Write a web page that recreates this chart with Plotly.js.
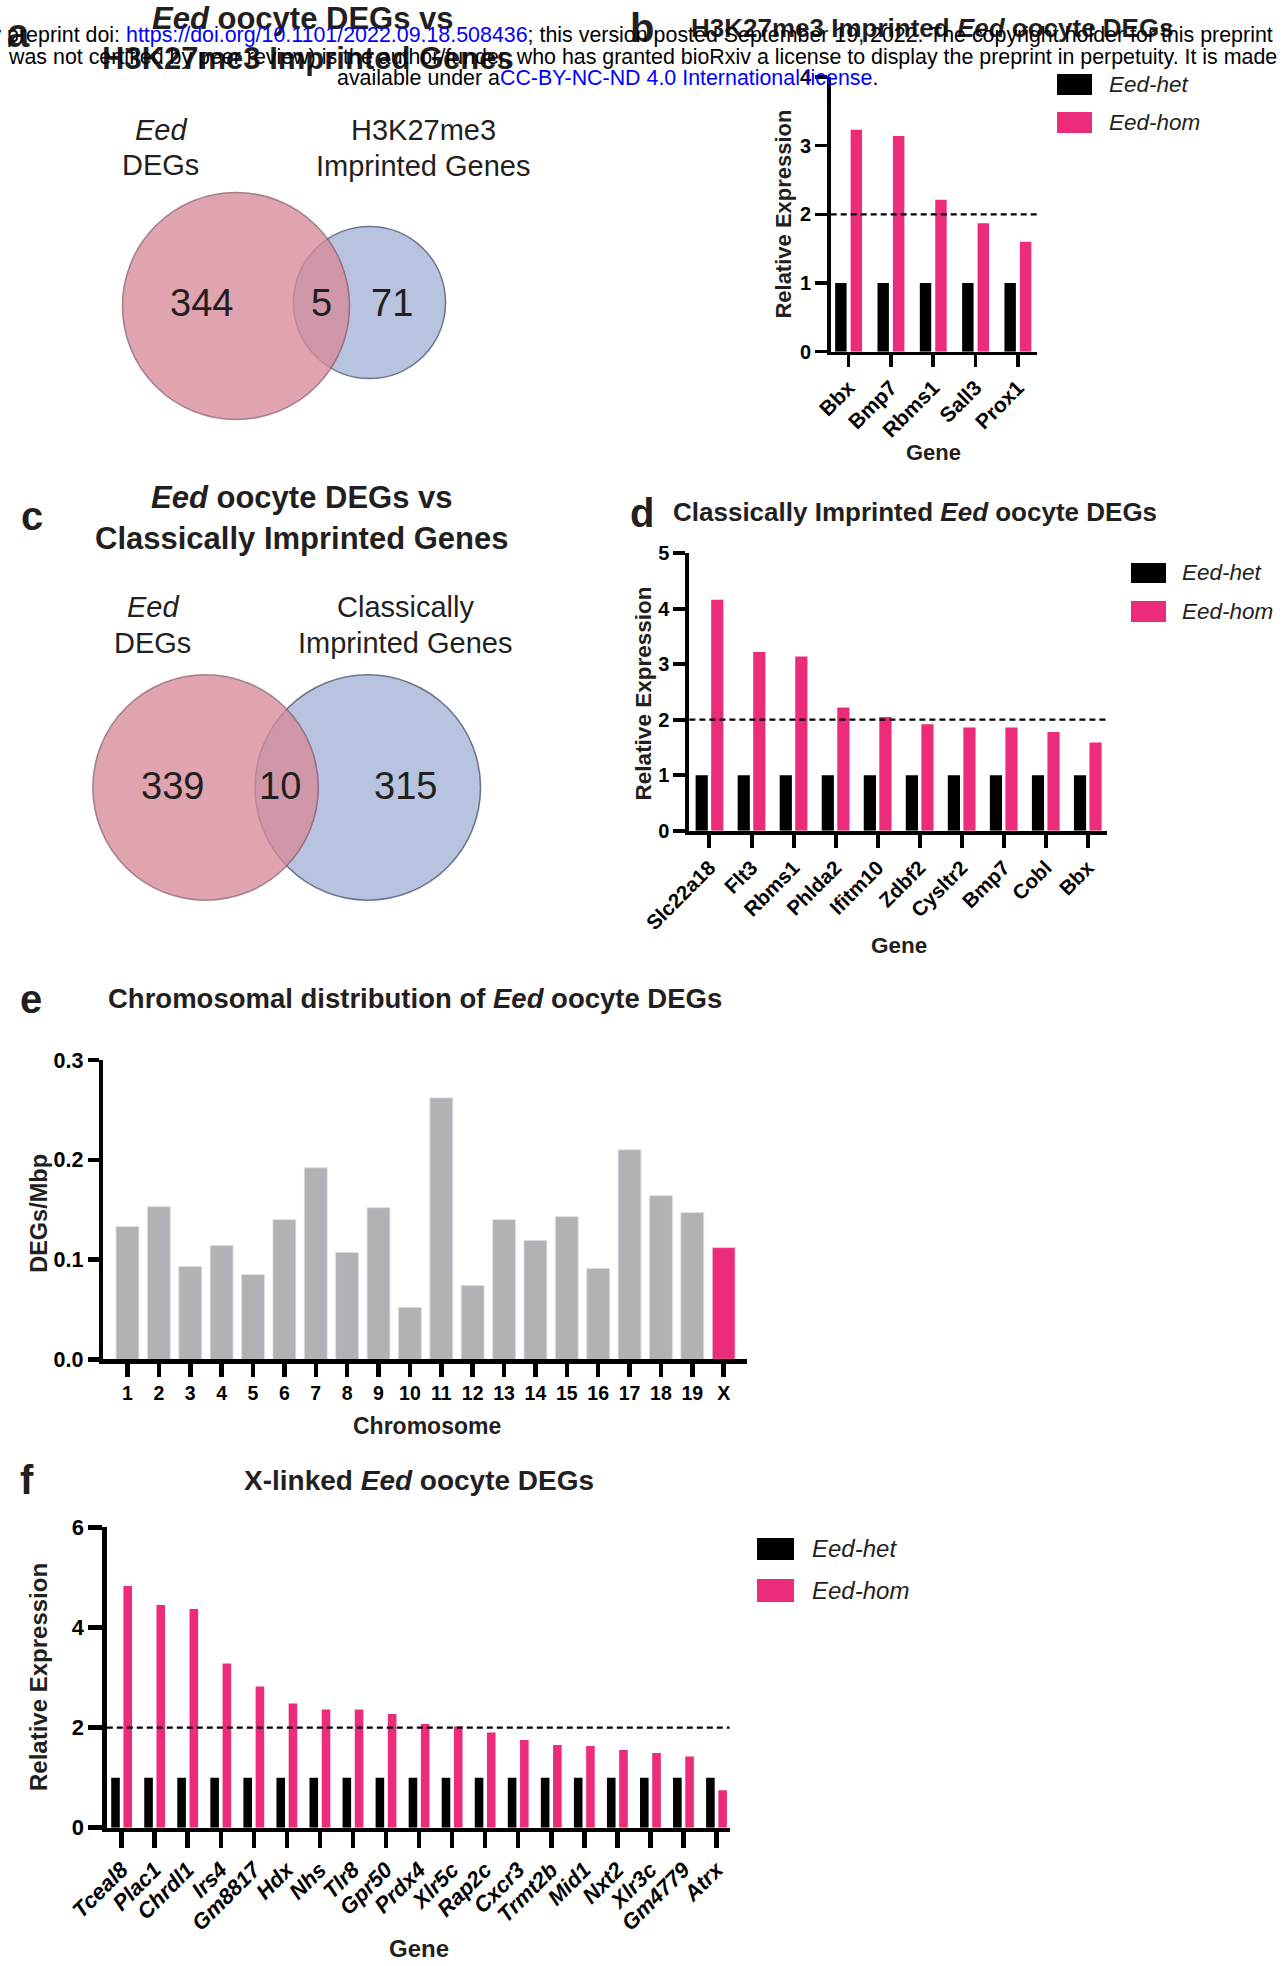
<!DOCTYPE html>
<html>
<head>
<meta charset="utf-8">
<script src="https://cdn.plot.ly/plotly-3.0.1.min.js"></script>
<style>
  html, body { margin: 0; padding: 0; background: #ffffff; }
  #chart { width: 1288px; height: 1966px; }
</style>
</head>
<body>
<div id="chart"></div>
<script>
// ---------------- DATA ----------------
const seriesNames = ['Eed-het', 'Eed-hom'];
const threshold = 2;

// panel a: Eed DEGs vs H3K27me3 imprinted genes (only A, overlap, only B)
const vennASets = ['Eed DEGs', 'H3K27me3 Imprinted Genes'];
const vennACounts = [344, 5, 71];

// panel c: Eed DEGs vs classically imprinted genes
const vennCSets = ['Eed DEGs', 'Classically Imprinted Genes'];
const vennCCounts = [339, 10, 315];

// panel b
const bGenes = ['Bbx', 'Bmp7', 'Rbms1', 'Sall3', 'Prox1'];
const bHet = [1, 1, 1, 1, 1];
const bHom = [3.23, 3.14, 2.21, 1.87, 1.60];

// panel d
const dGenes = ['Slc22a18', 'Flt3', 'Rbms1', 'Phlda2', 'Ifitm10', 'Zdbf2', 'Cysltr2', 'Bmp7', 'Cobl', 'Bbx'];
const dHet = [1, 1, 1, 1, 1, 1, 1, 1, 1, 1];
const dHom = [4.16, 3.22, 3.14, 2.22, 2.05, 1.92, 1.86, 1.86, 1.78, 1.59];

// panel e
const chromosomes = ['1','2','3','4','5','6','7','8','9','10','11','12','13','14','15','16','17','18','19','X'];
const degsPerMbp = [0.133, 0.153, 0.093, 0.114, 0.085, 0.140, 0.192, 0.107, 0.152, 0.052,
                    0.262, 0.074, 0.140, 0.119, 0.143, 0.091, 0.210, 0.164, 0.147, 0.112];

// panel f
const fGenes = ['Tceal8', 'Plac1', 'Chrdl1', 'Irs4', 'Gm8817', 'Hdx', 'Nhs', 'Tlr8', 'Gpr50', 'Prdx4',
                'Xlr5c', 'Rap2c', 'Cxcr3', 'Trmt2b', 'Mid1', 'Nxt2', 'Xlr3c', 'Gm4779', 'Atrx'];
const fHet = [1, 1, 1, 1, 1, 1, 1, 1, 1, 1, 1, 1, 1, 1, 1, 1, 1, 1, 1];
const fHom = [4.83, 4.45, 4.37, 3.28, 2.82, 2.48, 2.36, 2.36, 2.27, 2.07,
              2.02, 1.90, 1.75, 1.65, 1.63, 1.55, 1.49, 1.42, 0.75];

// ---------------- STYLE ----------------
const W = 1288, H = 1966;
const px = v => v / W;
const py = v => 1 - v / H;
const FONT = 'Liberation Sans, Arial, Helvetica, sans-serif';
const PINK = '#ec2c7b';
const GRAY = '#b1b2b6';
const TXT = '#000000';

function pairTraces(genes, het, hom, xa, ya, w, gap) {
  return [
    {type: 'bar', x: genes, y: het, xaxis: xa, yaxis: ya, name: seriesNames[0],
     width: w, offset: -w - gap / 2, marker: {color: '#000000', line: {width: 0}}, showlegend: false},
    {type: 'bar', x: genes, y: hom, xaxis: xa, yaxis: ya, name: seriesNames[1],
     width: w, offset: gap / 2, marker: {color: PINK, line: {width: 0}}, showlegend: false}
  ];
}

const traces = [
  ...pairTraces(bGenes, bHet, bHom, 'x', 'y', 0.27, 0.095),
  ...pairTraces(dGenes, dHet, dHom, 'x2', 'y2', 0.29, 0.08),
  {type: 'bar', x: chromosomes, y: degsPerMbp, xaxis: 'x3', yaxis: 'y3', width: 0.727,
   marker: {color: chromosomes.map(c => c === 'X' ? PINK : GRAY), line: {color: '#dcdcde', width: 0.8}},
   showlegend: false},
  ...pairTraces(fGenes, fHet, fHom, 'x4', 'y4', 0.26, 0.11)
];

function xAxis(x0, x1, anchor, range, lw, tl, fsize, angle, italic) {
  return {
    domain: [px(x0), px(x1)], anchor: anchor, type: 'category', range: range,
    showline: true, linecolor: '#000', linewidth: lw, mirror: false,
    ticks: 'outside', ticklen: tl, tickwidth: lw, tickcolor: '#000',
    showgrid: false, zeroline: false, tickangle: angle,
    tickfont: {family: FONT, size: fsize, color: TXT, weight: 'bold', style: italic ? 'italic' : 'normal'},
    fixedrange: true
  };
}
function yAxis(ybot, ytop, anchor, range, dtick, lw, tl, fsize, fmt) {
  return {
    domain: [py(ybot), py(ytop)], anchor: anchor, range: range, dtick: dtick, tick0: 0,
    showline: true, linecolor: '#000', linewidth: lw,
    ticks: 'outside', ticklen: tl, tickwidth: lw, tickcolor: '#000',
    showgrid: false, zeroline: false, tickformat: fmt || '',
    tickfont: {family: FONT, size: fsize, color: TXT, weight: 'bold'},
    fixedrange: true
  };
}

function ann(text, x, y, size, opts) {
  return Object.assign({
    text: text, x: px(x), y: py(y), xref: 'paper', yref: 'paper',
    xanchor: 'center', yanchor: 'middle', showarrow: false,
    font: {family: FONT, size: size, color: '#231f20'}
  }, opts || {});
}

function circle(cx, cy, r, fill, stroke, op) {
  return {type: 'circle', xref: 'paper', yref: 'paper',
    x0: px(cx - r), x1: px(cx + r), y0: py(cy + r), y1: py(cy - r),
    fillcolor: fill, line: {color: stroke, width: 1.6}, opacity: op, layer: 'above'};
}
function rect(x0, y0, x1, y1, color) {
  return {type: 'rect', xref: 'paper', yref: 'paper',
    x0: px(x0), x1: px(x1), y0: py(y1), y1: py(y0), fillcolor: color, line: {width: 0}};
}
function dashed(xref, yref) {
  return {type: 'line', xref: xref + ' domain', yref: yref, x0: 0, x1: 1, y0: threshold, y1: threshold,
    line: {color: '#000', width: 2.2, dash: '6px,4px'}, layer: 'above'};
}

const VPINK = 'rgb(215,139,154)', VPINK_L = 'rgb(140,92,108)';
const VBLUE = 'rgb(184,196,223)', VBLUE_L = 'rgb(108,117,142)';

const shapes = [
  // venn a
  circle(369.5, 302.5, 76, VBLUE, VBLUE_L, 1),
  circle(236, 306, 113.5, VPINK, VPINK_L, 0.78),
  // venn c
  circle(367.8, 787.5, 112.7, VBLUE, VBLUE_L, 1),
  circle(205.6, 787.5, 112.7, VPINK, VPINK_L, 0.78),
  // threshold lines
  dashed('x', 'y'), dashed('x2', 'y2'), dashed('x4', 'y4'),
  // legend swatches
  rect(1057, 74, 1092, 95, '#000'), rect(1057, 112, 1092, 133, PINK),
  rect(1131, 563, 1166, 583, '#000'), rect(1131, 601, 1166, 622, PINK),
  rect(757, 1538, 794, 1560, '#000'), rect(757, 1579, 794, 1602, PINK)
];

const B = t => '<b>' + t + '</b>';
const annotations = [
  // panel labels
  ann(B('a'), 18, 33, 40),
  ann(B('b'), 642, 28, 40),
  ann(B('c'), 31.5, 516, 40),
  ann(B('d'), 642, 513, 40),
  ann(B('e'), 31, 999, 40),
  ann(B('f'), 26.5, 1480, 40),
  // panel a title + venn
  ann(B('<i>Eed</i> oocyte DEGs vs'), 303, 18, 31),
  ann(B('H3K27me3 Imprinted Genes'), 308, 58, 31),
  ann('<i>Eed</i>', 160.5, 130, 29),
  ann('DEGs', 160.5, 165, 29),
  ann('H3K27me3', 423, 130, 29),
  ann('Imprinted Genes', 423, 166, 29),
  ann(String(vennACounts[0]), 201.5, 303, 38),
  ann(String(vennACounts[1]), 321.5, 303, 38),
  ann(String(vennACounts[2]), 392, 303, 38),
  // panel c title + venn
  ann(B('<i>Eed</i> oocyte DEGs vs'), 301.5, 497, 31),
  ann(B('Classically Imprinted Genes'), 302, 538, 31),
  ann('<i>Eed</i>', 152.5, 607, 29),
  ann('DEGs', 152.5, 643, 29),
  ann('Classically', 405, 607, 29),
  ann('Imprinted Genes', 405, 643, 29),
  ann(String(vennCCounts[0]), 172, 786, 38),
  ann(String(vennCCounts[1]), 280, 786, 38),
  ann(String(vennCCounts[2]), 405, 786, 38),
  // panel b
  ann(B('H3K27me3 Imprinted <i>Eed</i> oocyte DEGs'), 932, 28, 26),
  ann(B('Relative Expression'), 783.6, 214, 22, {textangle: -90}),
  ann(B('Gene'), 933.4, 452, 22),
  ann('<i>' + seriesNames[0] + '</i>', 1106.8, 84.3, 22.5, {xanchor: 'left'}),
  ann('<i>' + seriesNames[1] + '</i>', 1106.8, 122.7, 22.5, {xanchor: 'left'}),
  // panel d
  ann(B('Classically Imprinted <i>Eed</i> oocyte DEGs'), 915, 512, 26),
  ann(B('Relative Expression'), 643.4, 693, 22.5, {textangle: -90}),
  ann(B('Gene'), 899, 945, 22.5),
  ann('<i>' + seriesNames[0] + '</i>', 1180.3, 573, 22.5, {xanchor: 'left'}),
  ann('<i>' + seriesNames[1] + '</i>', 1180.3, 611.7, 22.5, {xanchor: 'left'}),
  // panel e
  ann(B('Chromosomal distribution of <i>Eed</i> oocyte DEGs'), 414.5, 998, 27.5),
  ann(B('DEGs/Mbp'), 38.8, 1213, 23.5, {textangle: -90}),
  ann(B('Chromosome'), 427, 1426, 23),
  // panel f
  ann(B('X-linked <i>Eed</i> oocyte DEGs'), 419, 1480.5, 28),
  ann(B('Relative Expression'), 38, 1677, 24, {textangle: -90}),
  ann(B('Gene'), 419, 1948, 24),
  ann('<i>' + seriesNames[0] + '</i>', 809.6, 1548.3, 24, {xanchor: 'left'}),
  ann('<i>' + seriesNames[1] + '</i>', 809.6, 1590.7, 24, {xanchor: 'left'}),
  // bioRxiv header (drawn last, on top)
  ann('bioRxiv preprint doi: <span style="color:#0000ff">https://doi.org/10.1101/2022.09.18.508436</span>; this version posted September 19, 2022. The copyright holder for this preprint',
      1275, 35, 21.4, {xanchor: 'right', font: {family: FONT, size: 21.4, color: '#000'}}),
  ann('was not certified by peer review) is the author/funder, who has granted bioRxiv a license to display the preprint in perpetuity. It is made',
      6, 57, 21.4, {xanchor: 'left', font: {family: FONT, size: 21.4, color: '#000'}}),
  ann('available under a<span style="color:#0000ff">CC-BY-NC-ND 4.0 International license</span>.',
      335, 78, 21.4, {xanchor: 'left', font: {family: FONT, size: 21.4, color: '#000'}})
];

const layout = {
  width: W, height: H,
  margin: {l: 0, r: 0, t: 0, b: 0, pad: 0},
  paper_bgcolor: '#ffffff', plot_bgcolor: 'rgba(0,0,0,0)',
  font: {family: FONT, color: TXT},
  barmode: 'overlay',
  showlegend: false,
  xaxis:  xAxis(830.7, 1036.8, 'y',  [-0.423, 4.447], 3.5, 12, 21, -45, false),
  yaxis:  yAxis(351.7, 76.9, 'x',  [0, 4], 1, 3.5, 12, 20),
  xaxis2: xAxis(689.4, 1107, 'y2', [-0.478, 9.457], 4, 13, 20.5, -45, false),
  yaxis2: yAxis(830.7, 553.2, 'x2', [0, 5], 1, 4, 12, 20),
  xaxis3: xAxis(103.2, 746.5, 'y3', [-0.774, 19.727], 4.5, 13, 19.5, 0, false),
  yaxis3: yAxis(1359.3, 1060, 'x3', [0, 0.3], 0.1, 4.5, 11, 21.5, '.1f'),
  xaxis4: xAxis(106.8, 729.5, 'y4', [-0.448, 18.393], 4.5, 16, 22, -45, true),
  yaxis4: yAxis(1827.7, 1527.3, 'x4', [0, 6], 2, 4.5, 14, 22),
  shapes: shapes,
  annotations: annotations
};

Plotly.newPlot('chart', traces, layout, {staticPlot: true, displayModeBar: false});
</script>
</body>
</html>
